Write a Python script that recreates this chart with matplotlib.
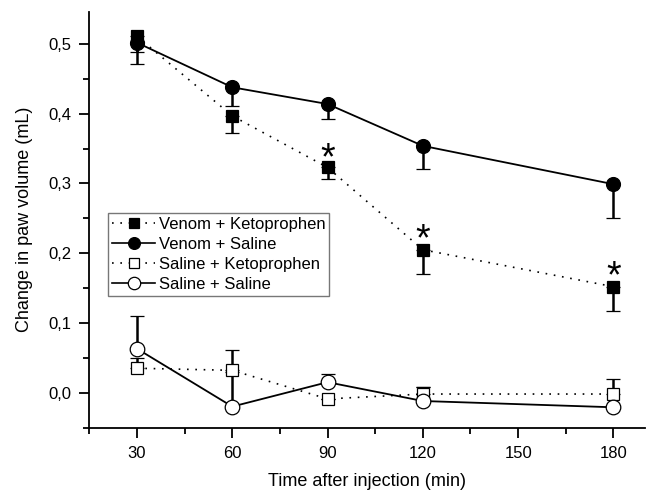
import matplotlib
matplotlib.use("Agg")
import matplotlib.pyplot as plt
from matplotlib.ticker import MultipleLocator, FuncFormatter
from matplotlib.lines import Line2D

plt.rcParams['font.family'] = ['Liberation Sans', 'DejaVu Sans']

# data
time = [30, 60, 90, 120, 180]

venom_keto = [0.511, 0.397, 0.323, 0.205, 0.152]
venom_keto_err = [0.023, 0.025, 0.016, 0.035, 0.035]

venom_saline = [0.502, 0.438, 0.414, 0.354, 0.299]
venom_saline_err = [0.030, 0.027, 0.022, 0.033, 0.048]

saline_keto = [0.035, 0.032, -0.009, -0.002, -0.002]
saline_keto_err = [0.015, 0.029, 0.0, 0.010, 0.022]

saline_saline = [0.063, -0.020, 0.015, -0.012, -0.021]
saline_saline_err = [0.047, 0.050, 0.012, 0.020, 0.0]

star_x = [90, 120, 180]
star_y = [0.348, 0.232, 0.179]

labels = ['Venom + Ketoprophen', 'Venom + Saline', 'Saline + Ketoprophen', 'Saline + Saline']

fig = plt.figure(figsize=(6.57, 5.0), dpi=100)
ax = fig.add_axes([0.136, 0.145, 0.846, 0.831])

zeros = [0] * len(time)
dotted = (0, (1, 4))

# style per series: linestyle, marker, size, face
styles = [
    (dotted, 's', 8.5, 'black'),
    ('-', 'o', 10, 'black'),
    (dotted, 's', 8, 'white'),
    ('-', 'o', 10.5, 'white'),
]
values = [venom_keto, venom_saline, saline_keto, saline_saline]
errs = [[venom_keto_err, zeros], [venom_saline_err, zeros],
        [zeros, saline_keto_err], [zeros, saline_saline_err]]

for (ls, mk, ms, fc), y, e in zip(styles, values, errs):
    ax.errorbar(time, y, yerr=e, color='black', linestyle=ls,
                linewidth=1.2 if ls == dotted else 1.3, marker=mk, markersize=ms,
                markerfacecolor=fc, markeredgewidth=0.9, elinewidth=1.8,
                capsize=5, capthick=1.8, zorder=3)

for x, y in zip(star_x, star_y):
    ax.text(x, y - 0.014, '*', ha='center', va='center', fontsize=27)

ax.set_xlim(15, 190)
ax.set_ylim(-0.05, 0.546)
ax.set_xticks([30, 60, 90, 120, 150, 180])
ax.xaxis.set_minor_locator(MultipleLocator(15))
ax.yaxis.set_major_locator(MultipleLocator(0.1))
ax.yaxis.set_minor_locator(MultipleLocator(0.05))
ax.yaxis.set_major_formatter(FuncFormatter(lambda v, p: f'{v:.1f}'.replace('.', ',')))

ax.spines['top'].set_visible(False)
ax.spines['right'].set_visible(False)
for s in ['left', 'bottom']:
    ax.spines[s].set_linewidth(1.3)
ax.tick_params(which='major', direction='out', length=7, width=1.3, labelsize=12, pad=6)
ax.tick_params(which='minor', direction='out', length=4, width=1.3)

ax.set_xlabel('Time after injection (min)', fontsize=13, labelpad=9)
ax.set_ylabel('Change in paw volume (mL)', fontsize=13, labelpad=11)

handles = [Line2D([], [], color='black', linestyle=ls, linewidth=1.2, marker=mk,
                  markersize=ms * 0.85, markerfacecolor=fc, markeredgewidth=0.9)
           for ls, mk, ms, fc in styles]
leg = ax.legend(handles, labels, loc='upper left', bbox_to_anchor=(0.033, 0.517),
                borderaxespad=0, fontsize=12, frameon=True, fancybox=False,
                handlelength=2.6, handletextpad=0.2, labelspacing=0.3, borderpad=0.25)
leg.get_frame().set_edgecolor('#555555')
leg.get_frame().set_linewidth(1.0)

fig.savefig('out.png', dpi=100)
